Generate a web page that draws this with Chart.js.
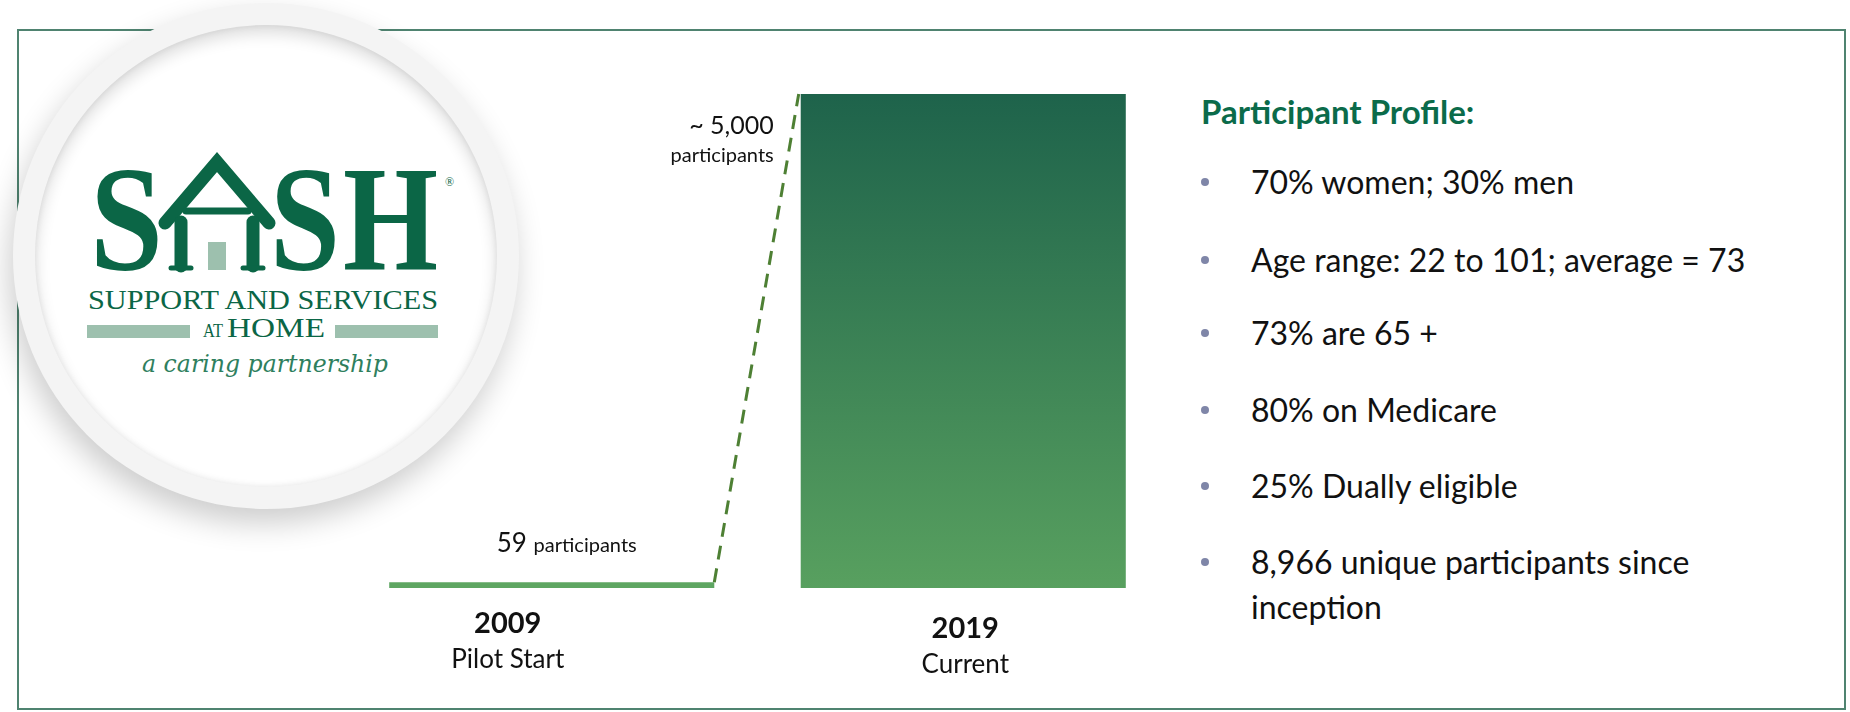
<!DOCTYPE html>
<html>
<head>
<meta charset="utf-8">
<script src="https://cdn.jsdelivr.net/npm/chart.js@4.4.1/dist/chart.umd.min.js"></script>
<style>
  html, body { margin: 0; padding: 0; background: #fff; }
  body { width: 1850px; height: 712px; position: relative; overflow: hidden; font-family: Lato, "Open Sans", sans-serif; }
  #frame { position: absolute; left: 17px; top: 29px; width: 1829px; height: 681px; border: 2px solid #4f8370; box-sizing: border-box; }
  #ring { position: absolute; left: 13px; top: 3px; width: 506px; height: 506px; border-radius: 50%; background: #f4f4f4;
          box-shadow: -4px 14px 30px rgba(0,0,0,0.20); }
  #disc { position: absolute; left: 22px; top: 22px; right: 22px; bottom: 22px; border-radius: 50%; background: #fff;
          box-shadow: inset 0 8px 16px rgba(0,0,0,0.14), inset 0 0 6px rgba(0,0,0,0.08); }
  #logo { position: absolute; left: 0; top: 0; }
  #chartBox { position: absolute; left: 330px; top: 60px; width: 860px; height: 640px; }
  .profile { position: absolute; left: 1201px; color: #111; font-size: 32px; white-space: nowrap; }
  .profile h2 { margin: 0; font-size: 33px; font-weight: bold; color: #0b6b4a; }
  .row { position: absolute; left: 50px; height: 40px; line-height: 40px; }
  .row.dot::before { content: ""; position: absolute; left: -50px; top: 16px; width: 8px; height: 8px; border-radius: 50%; background: #7f86a8; }
</style>
</head>
<body>
<div id="frame"></div>
<div id="ring"><div id="disc"></div></div>
<svg id="logo" width="540" height="560" viewBox="0 0 540 560">
  <g fill="#0b6646" font-family="'Liberation Serif', serif" font-weight="bold">
    <text x="90" y="270" font-size="150" textLength="73" lengthAdjust="spacingAndGlyphs">S</text>
    <text x="270" y="270" font-size="150" textLength="70" lengthAdjust="spacingAndGlyphs">S</text>
    <text x="343" y="270" font-size="150" textLength="95" lengthAdjust="spacingAndGlyphs">H</text>
  </g>
  <g stroke="#0b6646" fill="none" stroke-linecap="round">
    <path d="M165 223 L217 162 L269 223" stroke-width="13"/>
    <line x1="186" y1="211" x2="248" y2="211" stroke-width="7"/>
    <line x1="181" y1="222" x2="181" y2="266" stroke-width="13"/>
    <line x1="253" y1="222" x2="253" y2="266" stroke-width="13"/>
    <line x1="171" y1="268" x2="191" y2="268" stroke-width="5"/>
    <line x1="243" y1="268" x2="263" y2="268" stroke-width="5"/>
  </g>
  <rect x="208" y="242" width="18" height="28" fill="#9dc0ae"/>
  <text x="445" y="186" font-size="12" fill="#0b6646" font-family="'Liberation Serif', serif">®</text>
  <g fill="#0b6646" font-family="'Liberation Serif', serif">
    <text x="88" y="309" font-size="27" textLength="350" lengthAdjust="spacingAndGlyphs">SUPPORT AND SERVICES</text>
    <text x="203" y="337" font-size="19" textLength="20" lengthAdjust="spacingAndGlyphs">AT</text>
    <text x="227" y="337" font-size="28" textLength="98" lengthAdjust="spacingAndGlyphs">HOME</text>
  </g>
  <rect x="87" y="325" width="103" height="13" fill="#9dc0ae"/>
  <rect x="335" y="325" width="103" height="13" fill="#9dc0ae"/>
  <text x="142" y="372" font-size="24" font-style="italic" fill="#2f7f5e" font-family="'DejaVu Serif', serif" textLength="246" lengthAdjust="spacingAndGlyphs">a caring partnership</text>
</svg>

<div id="chartBox"><canvas id="bar-chart"></canvas></div>

<div class="profile" style="top:91px"><h2>Participant Profile:</h2></div>
<div class="profile" style="top:0">
  <div class="row dot" style="top:162px">70% women; 30% men</div>
  <div class="row dot" style="top:240px">Age range: 22 to 101; average = 73</div>
  <div class="row dot" style="top:313px">73%  are 65 +</div>
  <div class="row dot" style="top:390px">80% on Medicare</div>
  <div class="row dot" style="top:466px">25% Dually eligible</div>
  <div class="row dot" style="top:542px">8,966 unique participants since</div>
  <div class="row" style="top:587px">inception</div>
</div>

<script>
const years = ["2009", "2019"];
const phases = ["Pilot Start", "Current"];
const participants = [59, 5000];
const valueLabels = [["59", "participants"], ["~ 5,000", "participants"]];

const barChart = document.querySelector("#bar-chart").getContext("2d");

// dashed connector from the top of the first bar to the top of the second + text labels
const sashDecor = {
  id: "sashDecor",
  afterDatasetsDraw(chart) {
    const ctx = chart.ctx;
    const bars = chart.getDatasetMeta(0).data;
    const a = bars[0], b = bars[1];
    ctx.save();
    ctx.strokeStyle = "#4e8034";
    ctx.lineWidth = 3;
    ctx.setLineDash([14, 9]);
    ctx.beginPath();
    ctx.moveTo(a.x + a.width / 2, a.y);
    ctx.lineTo(b.x - b.width / 2 - 2, b.y);
    ctx.stroke();
    ctx.setLineDash([]);

    ctx.fillStyle = "#111";
    // 59 participants
    ctx.textBaseline = "alphabetic";
    ctx.textAlign = "left";
    ctx.font = "26px Lato";
    const w1 = ctx.measureText(valueLabels[0][0] + " ").width;
    ctx.font = "20px Lato";
    const w2 = ctx.measureText(valueLabels[0][1]).width;
    let x0 = a.x + 15 - (w1 + w2) / 2;
    ctx.font = "26px Lato";
    ctx.fillText(valueLabels[0][0] + " ", x0, a.y - 30);
    ctx.font = "20px Lato";
    ctx.fillText(valueLabels[0][1], x0 + w1, a.y - 30);

    // ~5,000 participants
    ctx.textAlign = "right";
    ctx.font = "25px Lato";
    ctx.fillText(valueLabels[1][0], b.x - b.width / 2 - 27, b.y + 40);
    ctx.font = "20px Lato";
    ctx.fillText(valueLabels[1][1], b.x - b.width / 2 - 27, b.y + 68);

    // category labels
    const base = chart.scales.y.getPixelForValue(0);
    const offs = [-44, 2];
    ctx.textAlign = "center";
    bars.forEach((bar, i) => {
      ctx.font = "bold 29px Lato";
      ctx.fillText(years[i], bar.x + offs[i], base + 45 + i * 5);
      ctx.font = "26px Lato";
      ctx.fillText(phases[i], bar.x + offs[i], base + 80 + i * 5);
    });
    ctx.restore();
  }
};

new Chart(barChart, {
  type: "bar",
  data: {
    labels: years,
    datasets: [
      {
        label: "Participants",
        data: participants,
        backgroundColor: (c) => {
          const area = c.chart.chartArea;
          if (!area) return "#58a05f";
          if (c.dataIndex === 0) return "#5ea662";
          const g = c.chart.ctx.createLinearGradient(0, area.top, 0, area.bottom);
          g.addColorStop(0, "#1e634b");
          g.addColorStop(1, "#58a05f");
          return g;
        },
        borderWidth: 0,
        barPercentage: 0.79,
        categoryPercentage: 1,
      },
    ],
  },
  options: {
    responsive: true,
    maintainAspectRatio: false,
    animation: false,
    layout: { padding: { left: 16, right: 21, top: 34, bottom: 112 } },
    plugins: { legend: { display: false }, tooltip: { enabled: false } },
    scales: {
      x: { display: false },
      y: { display: false, min: 0, max: 5000 },
    },
  },
  plugins: [sashDecor],
});
</script>
</body>
</html>
